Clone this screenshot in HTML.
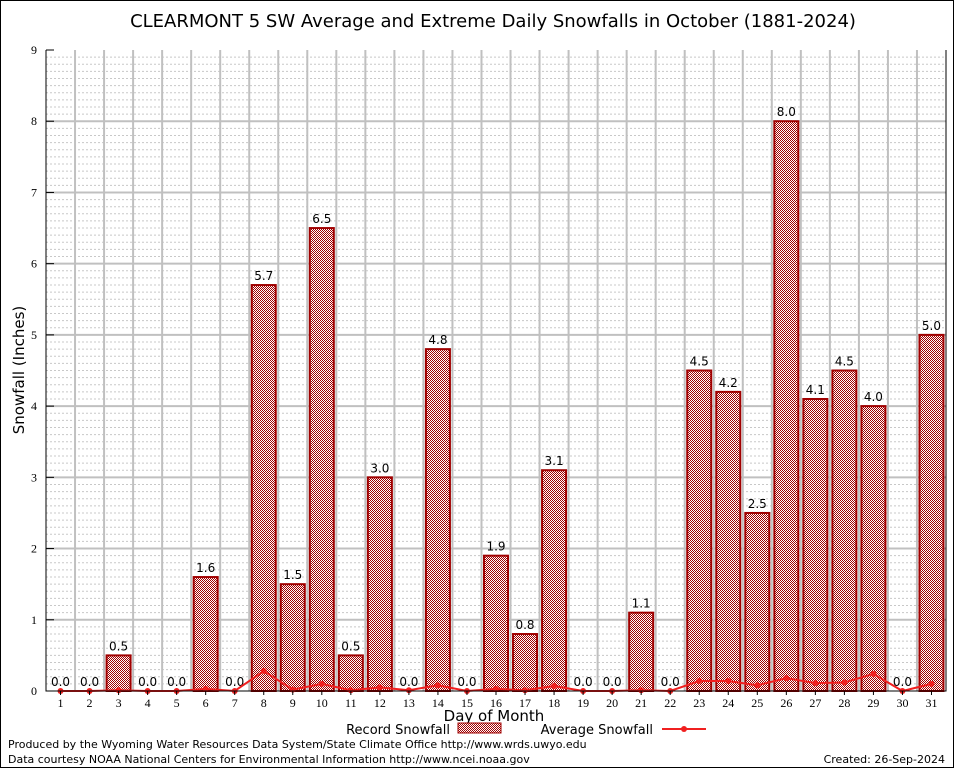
<!DOCTYPE html>
<html><head><meta charset="utf-8"><style>
body{margin:0;background:#fff;}
svg{display:block;font-family:"DejaVu Sans","Liberation Sans",sans-serif;}
</style></head><body>
<svg id="chart" width="954" height="768" viewBox="0 0 954 768">
<defs>
<pattern id="hatch" width="2" height="2" patternUnits="userSpaceOnUse">
<rect width="2" height="2" fill="#fff"/><rect width="1" height="1" fill="#a00000"/><rect x="1" y="1" width="1" height="1" fill="#a00000"/>
</pattern>
</defs>
<rect x="0.5" y="0.5" width="953" height="767" fill="#fff" stroke="#000"/>
<text x="493" y="27" font-size="18" text-anchor="middle">CLEARMONT 5 SW Average and Extreme Daily Snowfalls in October (1881-2024)</text>
<g id="grid"></g><g id="bars"></g><g id="line"></g><g id="axes"></g>
<text x="24" y="370" font-size="15" text-anchor="middle" transform="rotate(-90 24 370)">Snowfall (Inches)</text>
<text x="494" y="721" font-size="15" text-anchor="middle">Day of Month</text>
<g>
<text x="450" y="734" font-size="13" text-anchor="end">Record Snowfall</text>
<rect x="458" y="723" width="43" height="10" fill="url(#hatch)" stroke="#a00000"/>
<text x="653" y="734" font-size="13" text-anchor="end">Average Snowfall</text>
<line x1="662" y1="729" x2="706" y2="729" stroke="#f02020" stroke-width="2"/>
<circle cx="684" cy="729" r="3" fill="#f02020"/>
</g>
<text x="8" y="748" font-size="11">Produced by the Wyoming Water Resources Data System/State Climate Office http://www.wrds.uwyo.edu</text>
<text x="8" y="763" font-size="11">Data courtesy NOAA National Centers for Environmental Information http://www.ncei.noaa.gov</text>
<text x="945" y="763" font-size="11" text-anchor="end">Created: 26-Sep-2024</text>
</svg>
<script>
const days = [1,2,3,4,5,6,7,8,9,10,11,12,13,14,15,16,17,18,19,20,21,22,23,24,25,26,27,28,29,30,31];
const recordSnow = [0,0,0.5,0,0,1.6,0,5.7,1.5,6.5,0.5,3.0,0,4.8,0,1.9,0.8,3.1,0,0,1.1,0,4.5,4.2,2.5,8.0,4.1,4.5,4.0,0,5.0];
const avgSnow = [0,0,0.01,0,0,0.03,0,0.28,0.02,0.1,0.01,0.05,0.01,0.08,0,0.03,0.01,0.07,0,0,0.01,0,0.14,0.14,0.08,0.18,0.11,0.12,0.24,0,0.1];
const yTicks = [0,1,2,3,4,5,6,7,8,9];
const NS="http://www.w3.org/2000/svg";
const L=46,R=946,T=50,B=691,YMAX=9;
const step=(R-L)/days.length;
const xs=d=>L+(d-0.5)*step;
const ys=v=>B-v*(B-T)/YMAX;
function mk(tag,attrs,parent){const e=document.createElementNS(NS,tag);for(const k in attrs)e.setAttribute(k,attrs[k]);parent.appendChild(e);return e;}
const grid=document.getElementById('grid'),bars=document.getElementById('bars'),line=document.getElementById('line'),axes=document.getElementById('axes');
for(let i=1;i<YMAX*10;i++){if(i%10===0)continue;const y=ys(i/10);
const g=mk('line',{x1:L,x2:R,y1:y,y2:y,stroke:'#c8c8c8','stroke-dasharray':'2,2'},grid);
}
for(let k=1;k<days.length;k++){const x=L+k*step;
const g=mk('line',{x1:x,x2:x,y1:T,y2:B,stroke:'#c0c0c0','stroke-width':2},grid);
}
yTicks.forEach(t=>{const y=ys(t);
if(t>0&&t<YMAX){const g=mk('line',{x1:L,x2:R,y1:y,y2:y,stroke:'#c0c0c0','stroke-width':2},grid);
}
const tk=mk('line',{x1:L,x2:L+8,y1:y,y2:y,stroke:'#000'},axes);

const tx=mk('text',{x:L-9,y:y+4,'font-size':12,'text-anchor':'end','font-family':'Liberation Serif,serif'},axes);tx.textContent=t;
});
days.forEach((d,i)=>{const v=recordSnow[i],x=xs(d);
if(v>0){const r=mk('rect',{x:x-12,y:ys(v),width:24,height:B-ys(v),fill:'url(#hatch)',stroke:'#a00000','stroke-width':2},bars);
}
const lb=mk('text',{x:x,y:ys(v)-5,'font-size':12,'text-anchor':'middle'},bars);lb.textContent=v.toFixed(1);

const tx=mk('text',{x:x,y:B+16,'font-size':12,'text-anchor':'middle','font-family':'Liberation Serif,serif'},axes);tx.textContent=d;

const tk=mk('line',{x1:x,x2:x,y1:B,y2:B+4,stroke:'#000'},axes);
});
const pts=days.map((d,i)=>xs(d)+','+ys(avgSnow[i])).join(' ');
const pl=mk('polyline',{points:pts,fill:'none',stroke:'#f02020','stroke-width':2},line);

days.forEach((d,i)=>{const c=mk('circle',{cx:xs(d),cy:ys(avgSnow[i]),r:3,fill:'#f02020'},line);
});
const ax=mk('path',{d:`M${L},${T}V${B}H${R}V${T}`,fill:'none',stroke:'#000'},axes);

</script>
</body></html>
